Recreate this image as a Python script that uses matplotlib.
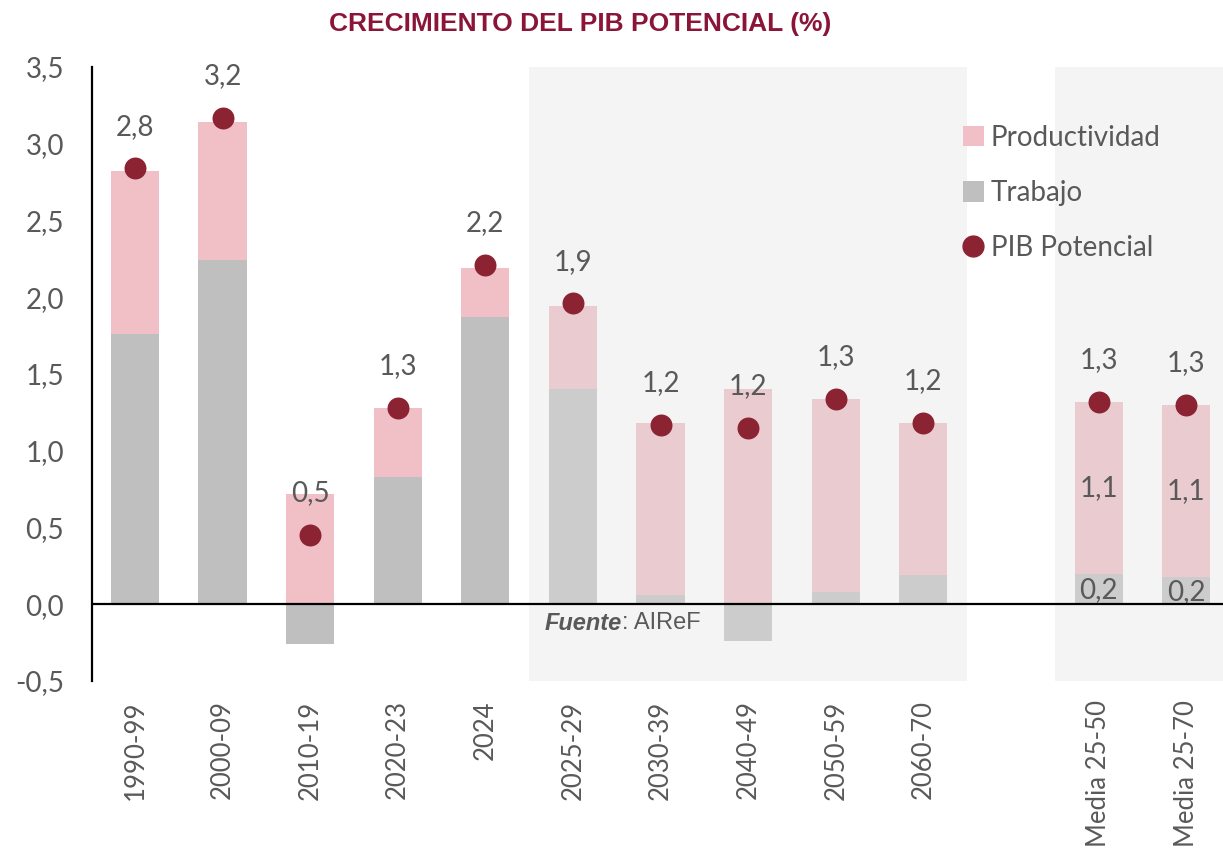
import matplotlib
matplotlib.use("Agg")
import matplotlib.pyplot as plt
from matplotlib.lines import Line2D
from matplotlib.patches import Patch
import numpy as np

categories = ["1990-99", "2000-09", "2010-19", "2020-23", "2024", "2025-29",
              "2030-39", "2040-49", "2050-59", "2060-70", "Media 25-50", "Media 25-70"]
positions = [0, 1, 2, 3, 4, 5, 6, 7, 8, 9, 11, 12]
trabajo = [1.76, 2.24, -0.26, 0.83, 1.87, 1.40, 0.06, -0.24, 0.08, 0.19, 0.20, 0.18]
productividad = [1.06, 0.90, 0.72, 0.45, 0.32, 0.54, 1.12, 1.40, 1.26, 0.99, 1.12, 1.12]
pib = [2.84, 3.17, 0.45, 1.28, 2.21, 1.96, 1.17, 1.15, 1.34, 1.18, 1.32, 1.30]
pib_labels = ["2,8", "3,2", "0,5", "1,3", "2,2", "1,9", "1,2", "1,2", "1,3", "1,2", "1,3", "1,3"]
media_prod_labels = ["1,1", "1,1"]
media_trab_labels = ["0,2", "0,2"]
yticks = [-0.5, 0.0, 0.5, 1.0, 1.5, 2.0, 2.5, 3.0, 3.5]

PINK = "#F0C0C6"
GRAY = "#BFBFBF"
DOT = "#8B2332"
TXT = "#595959"
TITLE = "#8B1538"
FONT = "Lato"

W, H = 1223, 860
fig = plt.figure(figsize=(W / 100, H / 100), dpi=100)
ax = fig.add_axes([92 / W, 1 - 681 / H, (W - 92) / W, (681 - 67) / H])

x = np.array(positions, dtype=float)
tr = np.array(trabajo)
pr = np.array(productividad)
bottom_p = np.maximum(tr, 0)

ax.bar(x, tr, width=0.55, color=GRAY, zorder=2)
ax.bar(x, pr, width=0.55, bottom=bottom_p, color=PINK, zorder=2)

# shaded forecast regions (translucent overlay over bars)
ax.axvspan(4.5, 9.5, color="#E2E2E2", alpha=0.375, lw=0, zorder=3)
ax.axvspan(10.5, 13, color="#E2E2E2", alpha=0.375, lw=0, zorder=3)

ax.scatter(x, pib, s=250, color=DOT, zorder=5, linewidths=0)
for xi, yi, lab in zip(x, pib, pib_labels):
    ax.annotate(lab, (xi, yi), xytext=(0, 30), textcoords="offset points",
                ha="center", va="center", fontsize=20, color=TXT, family=FONT, zorder=6)

for k, idx in enumerate([10, 11]):
    xi = x[idx]
    ax.text(xi, bottom_p[idx] + pr[idx] / 2, media_prod_labels[k], ha="center", va="center",
            fontsize=20, color=TXT, family=FONT, zorder=6)
    ax.text(xi, tr[idx] / 2 - 0.01, media_trab_labels[k], ha="center", va="center",
            fontsize=20, color=TXT, family=FONT, zorder=6)

ax.axhline(0, color="black", lw=1.6, zorder=7)

ax.set_xlim(-0.49, 12.42)
ax.set_ylim(-0.5, 3.5)
ax.set_yticks(yticks)
ax.set_yticklabels([f"{v:.1f}".replace(".", ",") for v in yticks])
ax.set_xticks(x)
ax.set_xticklabels(categories, rotation=90, va="top", ha="center")
for lab in ax.get_yticklabels():
    lab.set_fontfamily(FONT)
    lab.set_fontsize(20)
    lab.set_color(TXT)
for lab in ax.get_xticklabels():
    lab.set_fontfamily(FONT)
    lab.set_fontsize(18.5)
    lab.set_color(TXT)
ax.tick_params(axis="both", length=0)
ax.tick_params(axis="x", pad=14)
ax.tick_params(axis="y", pad=20)

for s in ["top", "right", "bottom"]:
    ax.spines[s].set_visible(False)
ax.spines["left"].set_color("black")
ax.spines["left"].set_linewidth(1.6)

handles = [Patch(facecolor=PINK, edgecolor="none", label="Productividad"),
           Patch(facecolor=GRAY, edgecolor="none", label="Trabajo"),
           Line2D([], [], marker="o", ls="none", color=DOT, markersize=15, label="PIB Potencial")]
leg = ax.legend(handles=handles, loc="upper left",
                bbox_to_anchor=((963 - 92) / (W - 92), 1 - (125 - 67) / (681 - 67)),
                frameon=False, handlelength=0.75, handleheight=0.75, handletextpad=0.25,
                labelspacing=1.05, borderaxespad=0, borderpad=0,
                prop={"family": FONT, "size": 20})
for t in leg.get_texts():
    t.set_color(TXT)

fy = 1 - (623 - 67) / (681 - 67)
t1 = ax.text((545 - 92) / (W - 92), fy, "Fuente", transform=ax.transAxes,
             fontsize=17, color=TXT, family="Liberation Sans", fontweight="bold", style="italic",
             ha="left", va="center", zorder=8)
ax.annotate(": AIReF", xy=(1, 0.5), xycoords=t1, ha="left", va="center",
            fontsize=17, color=TXT, family="Liberation Sans", zorder=8)

fig.text(580 / W, 1 - 24 / H, "CRECIMIENTO DEL PIB POTENCIAL (%)", ha="center", va="center",
         fontsize=19, fontweight="bold", color=TITLE, family="Liberation Sans")

fig.savefig("out.png", dpi=100)
